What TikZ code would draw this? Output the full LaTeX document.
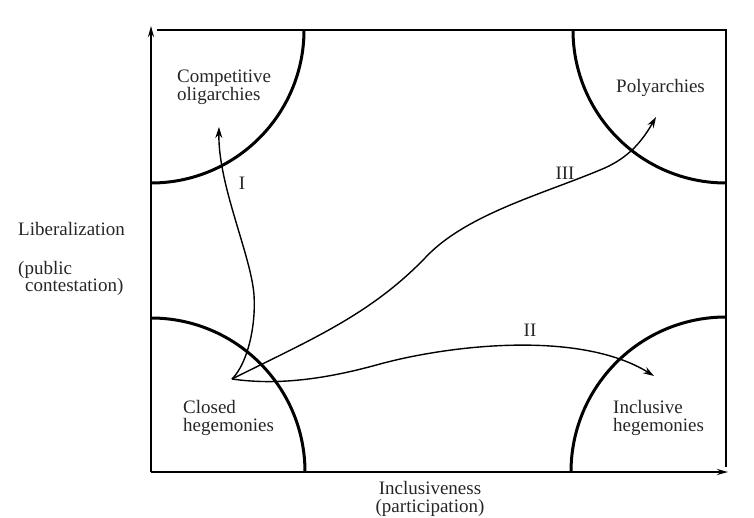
\documentclass[tikz,border=0pt]{standalone}
\usepackage{fontspec}
\setmainfont{Liberation Serif}
\usetikzlibrary{arrows.meta}
\begin{document}
\begin{tikzpicture}[x=1pt,y=-1pt,
  lbl/.style={font=\fontsize{19}{18}\selectfont, inner sep=0pt, align=left, text=black!85},
  axisline/.style={line width=2pt, -{Stealth[length=11pt,width=6pt]}},
  frameline/.style={line width=2pt},
  region/.style={line width=3pt},
  route/.style={line width=1.4pt, -{Stealth[length=11pt,width=7pt]}}]
\useasboundingbox (0,0) rectangle (754,518);
% frame corners
\coordinate (O) at (151,472);
\coordinate (Ytop) at (151,26);
\coordinate (Xend) at (728,472);
\coordinate (TL) at (151,30);
\coordinate (TLs) at (157,30);
\coordinate (TR) at (726,30);
\coordinate (BR) at (726,472);
\coordinate (BRe) at (726,467);
\draw[axisline] (O) -- (Ytop);
\draw[axisline] (O) -- (Xend);
\draw[frameline] (TLs) -- (TR) -- (BRe);
% quarter circles
\begin{scope}
  \clip (TL) rectangle (BR);
  \draw[region] (TL) circle[radius=153pt];
  \draw[region] (TR) circle[radius=153pt];
  \draw[region] (O) circle[radius=154pt];
  \draw[region] (BR) circle[radius=155pt];
\end{scope}
% region labels (anchor = baseline of last line)
\node[lbl, anchor=base west] (co) at (177,101) {Competitive\\oligarchies};
\node[lbl, anchor=base west] (po) at (616,93) {Polyarchies};
\node[lbl, anchor=base west] (ch) at (183,431) {Closed\\hegemonies};
\node[lbl, anchor=base west] (ih) at (613,431) {Inclusive\\hegemonies};
% axis labels
\node[lbl, anchor=base west] (lib) at (18,236) {Liberalization};
\node[lbl, anchor=base west] (pub) at (18,291) {(public\\[-1pt]\hspace*{7pt}contestation)};
\node[lbl, anchor=base, align=center] (inc) at (430,512) {Inclusiveness\\(participation)};
% paths
\coordinate (tip) at (232,379);
\coordinate (endI) at (219,127);
\coordinate (endII) at (654,376);
\coordinate (endIII) at (656,117);
\draw[route] (tip) .. controls (248,363) and (256,325) .. (254,295)
                   .. controls (251,255) and (218,185) .. (endI);
\draw[route] (tip) .. controls (310,340) and (370,315) .. (425,258)
                   .. controls (465,215) and (540,195) .. (600,170)
                   .. controls (625,160) and (640,145) .. (endIII);
\draw[route] (tip) .. controls (280,386) and (330,378) .. (380,364)
                   .. controls (450,345) and (580,330) .. (endII);
% path labels
\node[lbl] (lI) at (242,183) {I};
\node[lbl] (lII) at (530,330) {II};
\node[lbl] (lIII) at (565,173) {III};
\end{tikzpicture}
\end{document}
